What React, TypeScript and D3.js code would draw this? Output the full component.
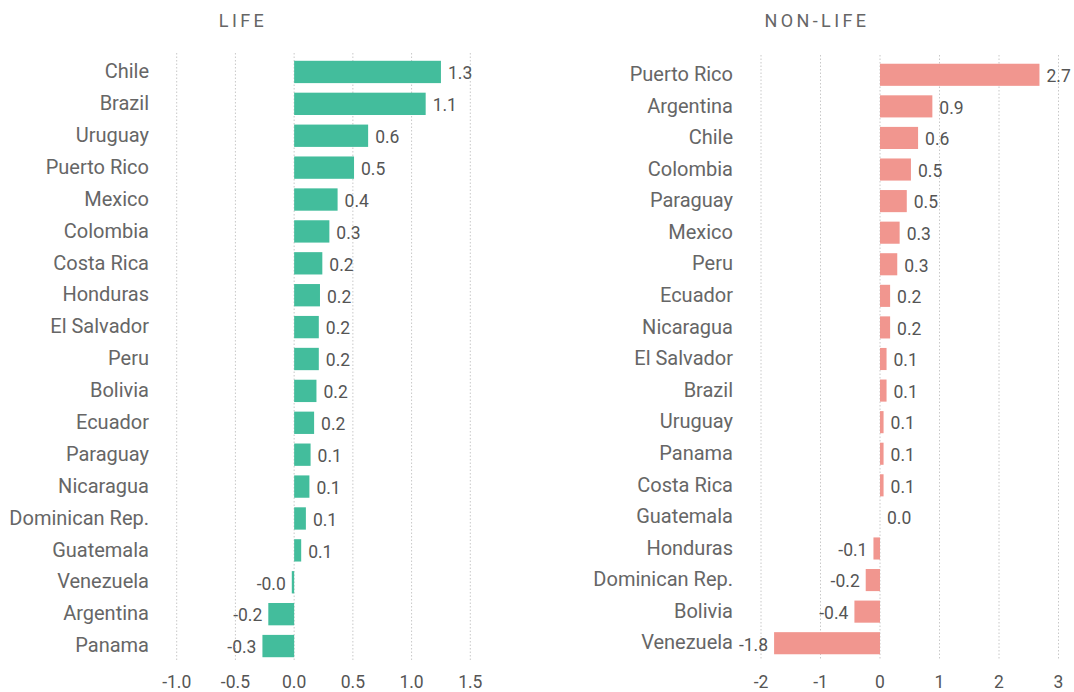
import React from "react";
import * as d3 from "d3";

const lifeCountries = ["Chile","Brazil","Uruguay","Puerto Rico","Mexico","Colombia","Costa Rica","Honduras","El Salvador","Peru","Bolivia","Ecuador","Paraguay","Nicaragua","Dominican Rep.","Guatemala","Venezuela","Argentina","Panama"];
const lifeValues = [1.25,1.12,0.63,0.51,0.37,0.30,0.24,0.22,0.21,0.21,0.19,0.17,0.14,0.13,0.10,0.06,-0.02,-0.22,-0.27];
const lifeTicks = [-1.0,-0.5,0.0,0.5,1.0,1.5];

const nonLifeCountries = ["Puerto Rico","Argentina","Chile","Colombia","Paraguay","Mexico","Peru","Ecuador","Nicaragua","El Salvador","Brazil","Uruguay","Panama","Costa Rica","Guatemala","Honduras","Dominican Rep.","Bolivia","Venezuela"];
const nonLifeValues = [2.68,0.88,0.64,0.52,0.45,0.33,0.29,0.17,0.17,0.11,0.11,0.06,0.06,0.06,0.0,-0.11,-0.24,-0.43,-1.78];
const nonLifeTicks = [-2,-1,0,1,2,3];

const FONT = "Roboto, 'Noto Sans', sans-serif";
const TEXT = "#666";
const VAL = "#555";

type PanelProps = {
  title: string; titleX: number;
  cats: string[]; vals: number[]; ticks: number[]; tickDigits: number;
  domain: [number, number]; xRange: [number, number];
  yRange: [number, number]; gridTop: number; gridBottom: number;
  labelRight: number; color: string;
};

function Panel(p: PanelProps) {
  const x = d3.scaleLinear().domain(p.domain).range(p.xRange);
  const y = d3.scaleBand<string>().domain(p.cats).range(p.yRange).paddingInner(0.3).paddingOuter(0.15);
  const bw = y.bandwidth();
  const fmt = (v: number) => v.toFixed(1);
  return (
    <g>
      <text x={p.titleX} y={27} textAnchor="middle" fontSize={18} fill={TEXT} letterSpacing="3.4" fontFamily={FONT}>{p.title}</text>
      {p.ticks.map((t) => (
        <g key={t}>
          <line x1={x(t)} x2={x(t)} y1={p.gridTop} y2={p.gridBottom} stroke="#c8c8c8" strokeWidth={1} strokeDasharray="1.5,2" />
          <text x={x(t)} y={688} textAnchor="middle" fontSize={17.5} fill={VAL} fontFamily={FONT}>{t.toFixed(p.tickDigits)}</text>
        </g>
      ))}
      {p.cats.map((c, i) => {
        const v = p.vals[i];
        const y0 = y(c) as number;
        const cy = y0 + bw / 2;
        const x0 = x(Math.min(0, v));
        const x1 = x(Math.max(0, v));
        return (
          <g key={c}>
            <text x={p.labelRight} y={cy - 1} dy="0.36em" textAnchor="end" fontSize={20} fill={TEXT} fontFamily={FONT}>{c}</text>
            <rect x={x0} y={y0} width={Math.max(0, x1 - x0)} height={bw} fill={p.color} />
            <text x={v >= 0 ? x1 + 7 : x0 - 6} y={cy + 1} dy="0.36em" textAnchor={v >= 0 ? "start" : "end"} fontSize={17.5} fill={VAL} fontFamily={FONT}>{fmt(v)}</text>
          </g>
        );
      })}
    </g>
  );
}

export default function App() {
  return (
    <svg width={1074} height={692} style={{ position: "absolute", left: 0, top: 0, background: "#fff" }}>
      <Panel title="LIFE" titleX={243} cats={lifeCountries} vals={lifeValues} ticks={lifeTicks} tickDigits={1}
        domain={[-1, 1.5]} xRange={[176.7, 470.3]} yRange={[56, 662]} gridTop={53} gridBottom={662}
        labelRight={149} color="#43BD9C" />
      <Panel title="NON-LIFE" titleX={817} cats={nonLifeCountries} vals={nonLifeValues} ticks={nonLifeTicks} tickDigits={0}
        domain={[-2, 3]} xRange={[761, 1058.5]} yRange={[59, 659]} gridTop={55} gridBottom={660}
        labelRight={733} color="#F1968F" />
    </svg>
  );
}
